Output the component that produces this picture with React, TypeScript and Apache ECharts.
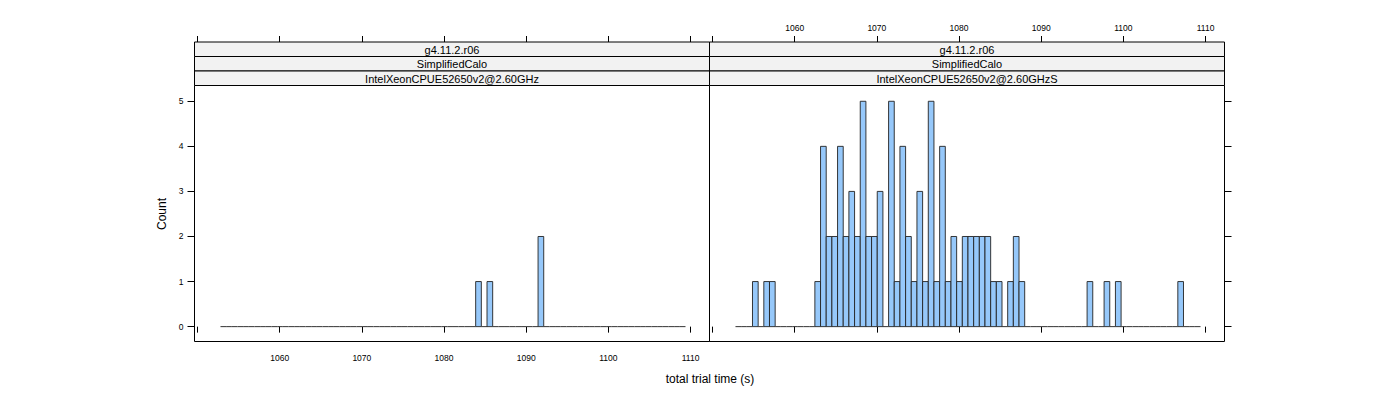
import React, { useEffect, useRef } from "react";
import * as echarts from "echarts";

// Histogram bins (equal width)
const binStart = 1052.8;
const binWidth = 0.69;

// counts per bin, left panel (IntelXeonCPUE52650v2@2.60GHz)
const leftCounts = [
  0, 0, 0, 0, 0, 0, 0, 0, 0, 0,
  0, 0, 0, 0, 0, 0, 0, 0, 0, 0,
  0, 0, 0, 0, 0, 0, 0, 0, 0, 0,
  0, 0, 0, 0, 0, 0, 0, 0, 0, 0,
  0, 0, 0, 0, 0, 1, 0, 1, 0, 0,
  0, 0, 0, 0, 0, 0, 2, 0, 0, 0,
  0, 0, 0, 0, 0, 0, 0, 0, 0, 0,
  0, 0, 0, 0, 0, 0, 0, 0, 0, 0,
  0, 0,
];

// counts per bin, right panel (IntelXeonCPUE52650v2@2.60GHzS)
const rightCounts = [
  0, 0, 0, 1, 0, 1, 1, 0, 0, 0,
  0, 0, 0, 0, 1, 4, 2, 2, 4, 2,
  3, 2, 5, 2, 2, 3, 0, 5, 1, 4,
  2, 1, 3, 1, 5, 1, 4, 1, 2, 1,
  2, 2, 2, 2, 2, 1, 1, 0, 1, 2,
  1, 0, 0, 0, 0, 0, 0, 0, 0, 0,
  0, 0, 1, 0, 0, 1, 0, 1, 0, 0,
  0, 0, 0, 0, 0, 0, 0, 0, 1, 0,
  0, 0,
];

const stripLines = ["g4.11.2.r06", "SimplifiedCalo"];
const panelNames = ["IntelXeonCPUE52650v2@2.60GHz", "IntelXeonCPUE52650v2@2.60GHzS"];

const xTicks = [1050, 1060, 1070, 1080, 1090, 1100, 1110];
const xTickLabels = [1060, 1070, 1080, 1090, 1100, 1110];
const yTicks = [0, 1, 2, 3, 4, 5];

const X_MIN = 1049.64;
const X_MAX = 1112.3;
const Y_MIN = -0.33;
const Y_MAX = 5.35;

const FONT = "Liberation Sans, Arial, Helvetica, sans-serif";
const BAR_FILL = "#96c8fa";

function toData(counts: number[]) {
  return counts.map((c, i) => [binStart + i * binWidth, binStart + (i + 1) * binWidth, c]);
}

export default function App() {
  const ref = useRef<HTMLDivElement>(null);

  useEffect(() => {
    if (!ref.current) return;
    const chart = echarts.init(ref.current, undefined, { renderer: "svg" });

    const PANEL_TOP = 85.5;
    const PANEL_H = 256;
    const PANEL_W = 515;
    const lefts = [194.5, 709.5];
    const STRIP_TOP = 42;
    const stripH = (PANEL_TOP - STRIP_TOP) / 3;

    const renderItem = (params: any, api: any) => {
      const x0 = api.value(0);
      const x1 = api.value(1);
      const c = api.value(2);
      const p0 = api.coord([x0, 0]);
      const p1 = api.coord([x1, c]);
      if (c === 0) {
        return {
          type: "line",
          shape: { x1: p0[0], y1: p0[1], x2: p1[0], y2: p0[1] },
          style: { stroke: "#333", lineWidth: 1 },
        };
      }
      return {
        type: "rect",
        shape: { x: p0[0], y: p1[1], width: p1[0] - p0[0], height: p0[1] - p1[1] },
        style: { fill: BAR_FILL, stroke: "#222", lineWidth: 0.9 },
      };
    };

    const graphic: any[] = [];
    lefts.forEach((l, pi) => {
      const texts = [stripLines[0], stripLines[1], panelNames[pi]];
      texts.forEach((t, si) => {
        const y = STRIP_TOP + si * stripH;
        graphic.push({
          type: "rect",
          shape: { x: l, y, width: PANEL_W, height: stripH },
          style: { fill: "#f2f2f2", stroke: "#000", lineWidth: 1 },
          z: 10,
        });
        graphic.push({
          type: "text",
          x: l + PANEL_W / 2,
          y: y + stripH / 2 + 0.5,
          style: {
            text: t,
            fontSize: 11,
            fontFamily: FONT,
            fill: "#000",
            align: "center",
            verticalAlign: "middle",
          },
          z: 11,
        });
      });
    });
    graphic.push({
      type: "text",
      x: 710,
      y: 379,
      style: {
        text: "total trial time (s)",
        fontSize: 12,
        fontFamily: FONT,
        fill: "#000",
        align: "center",
        verticalAlign: "middle",
      },
    });
    graphic.push({
      type: "text",
      x: 162,
      y: 214,
      rotation: Math.PI / 2,
      style: {
        text: "Count",
        fontSize: 12,
        fontFamily: FONT,
        fill: "#000",
        align: "center",
        verticalAlign: "middle",
      },
    });

    const fmt = (v: number) => String(v);

    const xAxisBase = (gridIndex: number, position: string, labels: boolean, offset = 0) => ({
      type: "value",
      gridIndex,
      position,
      offset,
      min: X_MIN,
      max: X_MAX,
      axisLine: { show: false },
      splitLine: { show: false },
      axisTick: {
        show: true,
        length: 6,
        customValues: xTicks,
        lineStyle: { color: "#000", width: 1 },
      },
      axisLabel: {
        show: labels,
        customValues: xTickLabels,
        formatter: fmt,
        fontSize: 8.5,
        fontFamily: FONT,
        color: "#000",
        margin: position === "top" ? 10 : 12,
      },
    });

    const yAxisBase = (gridIndex: number, position: string, labels: boolean) => ({
      type: "value",
      gridIndex,
      position,
      min: Y_MIN,
      max: Y_MAX,
      axisLine: { show: false },
      splitLine: { show: false },
      axisTick: {
        show: true,
        length: 7,
        customValues: yTicks,
        lineStyle: { color: "#000", width: 1 },
      },
      axisLabel: {
        show: labels,
        customValues: yTicks,
        formatter: fmt,
        fontSize: 8.5,
        fontFamily: FONT,
        color: "#000",
        margin: 11,
      },
    });

    const option: any = {
      animation: false,
      grid: lefts.map((l) => ({
        left: l,
        top: PANEL_TOP,
        width: PANEL_W,
        height: PANEL_H,
        show: true,
        borderColor: "#000",
        borderWidth: 1,
        backgroundColor: "transparent",
        containLabel: false,
      })),
      xAxis: [
        xAxisBase(0, "bottom", true),
        xAxisBase(0, "top", false, PANEL_TOP - STRIP_TOP),
        xAxisBase(1, "bottom", false),
        xAxisBase(1, "top", true, PANEL_TOP - STRIP_TOP),
      ],
      yAxis: [yAxisBase(0, "left", true), yAxisBase(1, "right", false)],
      series: [
        {
          type: "custom",
          xAxisIndex: 0,
          yAxisIndex: 0,
          renderItem,
          data: toData(leftCounts),
          clip: false,
        },
        {
          type: "custom",
          xAxisIndex: 2,
          yAxisIndex: 1,
          renderItem,
          data: toData(rightCounts),
          clip: false,
        },
      ],
      graphic,
    };

    chart.setOption(option);
    return () => chart.dispose();
  }, []);

  return (
    <div
      ref={ref}
      style={{ position: "fixed", left: 0, top: 0, width: 1400, height: 400, background: "#fff" }}
    />
  );
}
